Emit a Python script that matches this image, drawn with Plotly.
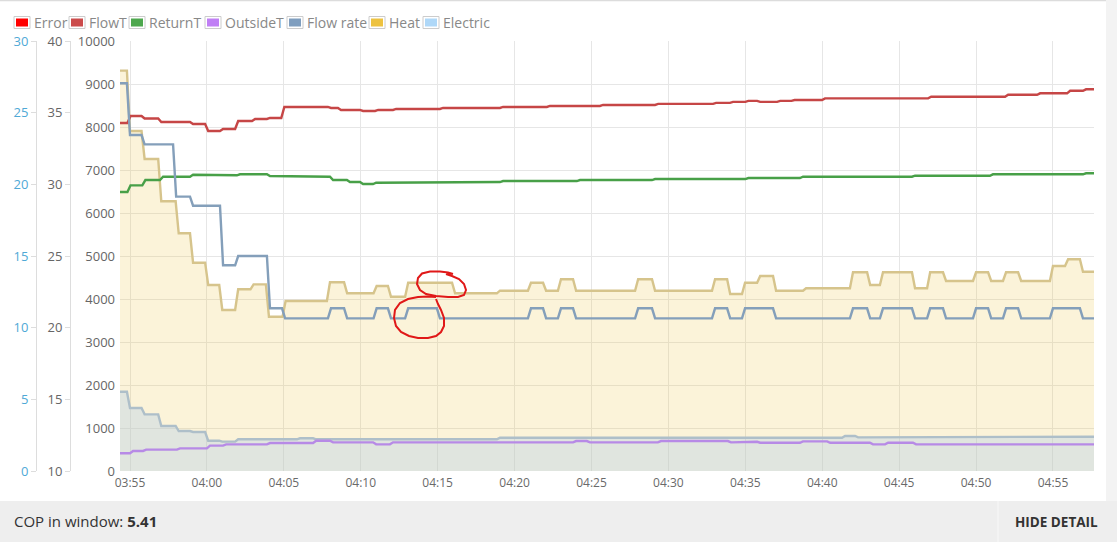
import pandas as pd
import plotly.graph_objects as go

DAY = "2024-01-01 "
START = "03:54:21"
END = "04:57:40"

# ---------------- data (level changes: time the step begins, value) -------------
heat_t = ["03:54:21", "03:54:48", "03:55:45", "03:56:50", "03:57:58", "03:58:54", "03:59:53",
          "04:00:48", "04:01:50", "04:02:50", "04:03:50", "04:04:55", "04:07:48", "04:08:55",
          "04:10:50", "04:11:46", "04:12:53", "04:15:56", "04:18:51", "04:20:52", "04:21:51",
          "04:22:49", "04:23:48", "04:27:50", "04:28:56", "04:32:50", "04:33:49", "04:34:47",
          "04:35:46", "04:36:48", "04:38:45", "04:41:48", "04:42:55", "04:43:45", "04:45:50",
          "04:46:49", "04:47:51", "04:49:48", "04:50:47", "04:51:45", "04:52:44", "04:54:48",
          "04:55:47", "04:56:45"]
heat_w = [9310, 7907, 7256, 6272, 5528, 4844, 4326,
          3744, 4225, 4341, 3588, 3953, 4388, 4132,
          4302, 4053, 4379, 4132, 4193, 4379, 4193,
          4458, 4193, 4458, 4193, 4458, 4116, 4379,
          4535, 4193, 4250, 4621, 4326, 4621, 4250,
          4621, 4419, 4621, 4419, 4621, 4419, 4767,
          4923, 4635]

elec_t = ["03:54:21", "03:54:48", "03:55:45", "03:56:50", "03:57:58", "03:58:54", "03:59:53",
          "04:00:48", "04:01:50", "04:05:51", "04:06:54", "04:18:51", "04:41:17", "04:42:08",
          "04:45:50"]
elec_w = [1844, 1465, 1318, 1047, 930, 907, 705,
          682, 737, 760, 737, 774, 814, 783,
          798]

flow_t = ["03:54:21", "03:54:48", "03:55:45", "03:57:48", "03:58:54", "04:00:51", "04:01:50",
          "04:03:54", "04:04:53", "04:07:52", "04:08:55", "04:10:50", "04:11:46", "04:12:53",
          "04:14:57", "04:20:52", "04:21:51", "04:22:49", "04:23:48", "04:27:50", "04:28:56",
          "04:32:50", "04:33:49", "04:34:47", "04:36:48", "04:41:48", "04:42:55", "04:43:45",
          "04:45:50", "04:46:49", "04:47:51", "04:49:48", "04:50:47", "04:51:45", "04:52:44",
          "04:54:48", "04:56:45"]
flow_lpm = [27.05, 23.44, 22.79, 19.14, 18.51, 14.35, 15.0,
            11.35, 10.65, 11.35, 10.65, 11.35, 10.65, 11.35,
            10.65, 11.35, 10.65, 11.35, 10.65, 11.35, 10.65,
            11.35, 10.65, 11.35, 10.65, 11.35, 10.65, 11.35,
            10.65, 11.35, 10.65, 11.35, 10.65, 11.35, 10.65,
            11.35, 10.65]

flowT_t = ["03:54:21", "03:54:50", "03:55:45", "03:56:50", "03:58:54", "03:59:53", "04:00:51",
           "04:01:50", "04:02:56", "04:03:54", "04:04:50", "04:07:52", "04:08:31", "04:09:57",
           "04:10:56", "04:12:06", "04:15:09", "04:19:03", "04:22:06", "04:25:33", "04:29:08",
           "04:32:54", "04:34:00", "04:35:00", "04:35:46", "04:37:04", "04:38:00", "04:39:59",
           "04:46:53", "04:51:53", "04:53:58", "04:55:55", "04:56:57"]
flowT_c = [34.28, 34.77, 34.59, 34.35, 34.21, 33.72, 33.86,
           34.42, 34.56, 34.63, 35.40, 35.33, 35.19, 35.12,
           35.19, 35.26, 35.33, 35.40, 35.47, 35.54, 35.61,
           35.68, 35.75, 35.82, 35.75, 35.82, 35.88, 36.00,
           36.11, 36.25, 36.35, 36.53, 36.63]

retT_t = ["03:54:21", "03:54:50", "03:55:48", "03:56:57", "03:58:54", "03:59:53", "04:01:57",
          "04:03:54", "04:04:53", "04:08:00", "04:09:06", "04:09:57", "04:10:48", "04:13:04",
          "04:19:03", "04:24:03", "04:28:56", "04:35:00", "04:38:33", "04:45:50", "04:50:54",
          "04:56:57"]
retT_c = [29.47, 29.93, 30.30, 30.53, 30.67, 30.63, 30.70,
          30.58, 30.53, 30.30, 30.16, 30.02, 30.11, 30.16,
          30.23, 30.30, 30.37, 30.44, 30.53, 30.60, 30.70,
          30.77]

outT_t = ["03:54:21", "03:55:00", "03:55:51", "03:58:03", "04:00:00", "04:01:03", "04:03:54",
          "04:06:54", "04:08:00", "04:10:48", "04:11:54", "04:23:48", "04:24:42", "04:29:19",
          "04:33:52", "04:34:51", "04:35:46", "04:38:33", "04:40:19", "04:43:06", "04:44:05",
          "04:45:54"]
outT_c = [11.24, 11.40, 11.49, 11.58, 11.77, 11.86, 11.95,
          12.11, 12.00, 11.86, 12.00, 12.09, 12.00, 12.09,
          12.00, 12.04, 11.97, 12.07, 11.97, 11.86, 11.97,
          11.86]

x_ticks = ["03:55", "04:00", "04:05", "04:10", "04:15", "04:20", "04:25", "04:30",
           "04:35", "04:40", "04:45", "04:50", "04:55"]
legend_names = ["Error", "FlowT", "ReturnT", "OutsideT", "Flow rate", "Heat", "Electric"]
legend_cols = ["#ff0000", "#cb4b4b", "#4da74d", "#c07ff5", "#7f9ebf", "#edc240", "#afd8f8"]
cop_value = "5.41"

FONT = "Open Sans"
W, H = 1117, 542
ML, MR, MT, MB = 0, 23, 41, 71
PW, PH = W - ML - MR, H - MT - MB


def steps(times, vals, ramp=12):
    ts = [pd.Timestamp(DAY + t) for t in times] + [pd.Timestamp(DAY + END)]
    xs, ys = [], []
    for i, v in enumerate(vals):
        s = ts[i] + pd.Timedelta(seconds=ramp if i > 0 else 0)
        xs += [s, ts[i + 1]]
        ys += [v, v]
    return xs, ys


def px(xp):
    return (xp - ML) / PW


def py(yp):
    return (H - MB - yp) / PH


fig = go.Figure()

hx, hy = steps(heat_t, heat_w)
ex, ey = steps(elec_t, elec_w)
fx, fy = steps(flow_t, flow_lpm)
ftx, fty = steps(flowT_t, flowT_c)
rtx, rty = steps(retT_t, retT_c)
otx, oty = steps(outT_t, outT_c)

LW = 2.4
fig.add_trace(go.Scatter(x=hx, y=hy, mode="lines", name="Heat", fill="tozeroy",
                         fillcolor="rgba(237,194,64,0.2)",
                         line=dict(color="#d6c48c", width=LW), yaxis="y"))
fig.add_trace(go.Scatter(x=ex, y=ey, mode="lines", name="Electric", fill="tozeroy",
                         fillcolor="rgba(178,206,232,0.36)",
                         line=dict(color="#aebfc9", width=LW), yaxis="y"))
fig.add_trace(go.Scatter(x=otx, y=oty, mode="lines", name="OutsideT",
                         line=dict(color="#b78ae6", width=LW), yaxis="y2"))
fig.add_trace(go.Scatter(x=rtx, y=rty, mode="lines", name="ReturnT",
                         line=dict(color="#48a048", width=LW), yaxis="y2"))
fig.add_trace(go.Scatter(x=ftx, y=fty, mode="lines", name="FlowT",
                         line=dict(color="#c64646", width=LW), yaxis="y2"))
fig.add_trace(go.Scatter(x=fx, y=fy, mode="lines", name="Flow rate",
                         line=dict(color="#849fba", width=LW), yaxis="y3"))

shapes = []
annotations = []

# page chrome: top rule, right strip, bottom bar
shapes.append(dict(type="rect", xref="paper", yref="paper", x0=px(0), x1=px(1106),
                   y0=py(1.2), y1=py(0), fillcolor="#dcdcdc", line_width=0, layer="below"))
shapes.append(dict(type="rect", xref="paper", yref="paper", x0=px(1106), x1=px(W),
                   y0=py(501), y1=py(0), fillcolor="#f3f3f3", line_width=0, layer="below"))
shapes.append(dict(type="rect", xref="paper", yref="paper", x0=px(0), x1=px(W),
                   y0=py(H), y1=py(501), fillcolor="#eeeeee", line_width=0, layer="below"))
shapes.append(dict(type="line", xref="paper", yref="paper", x0=px(998), x1=px(998),
                   y0=py(H), y1=py(501), line=dict(color="#f8f8f8", width=1)))

annotations.append(dict(xref="paper", yref="paper", x=px(12), y=py(521), xanchor="left",
                        yanchor="middle", showarrow=False,
                        text="COP in window: <b>" + cop_value + "</b>",
                        font=dict(family=FONT, size=15, color="#333333")))
annotations.append(dict(xref="paper", yref="paper", x=px(1056), y=py(522), xanchor="center",
                        yanchor="middle", showarrow=False, text="<b>HIDE DETAIL</b>",
                        font=dict(family=FONT, size=13.5, color="#333333")))

# legend (boxes + labels)
box_x = [14, 69, 129, 205, 287, 369, 423]
for name, col, bx in zip(legend_names, legend_cols, box_x):
    shapes.append(dict(type="rect", xref="paper", yref="paper", x0=px(bx), x1=px(bx + 16),
                       y0=py(28.5), y1=py(16.5), fillcolor="white",
                       line=dict(color="#cccccc", width=1)))
    shapes.append(dict(type="rect", xref="paper", yref="paper", x0=px(bx + 2), x1=px(bx + 14),
                       y0=py(26.5), y1=py(18.5), fillcolor=col, line_width=0))
    annotations.append(dict(xref="paper", yref="paper", x=px(bx + 18), y=py(22.5),
                            xanchor="left", yanchor="middle", showarrow=False, text=name,
                            font=dict(family=FONT, size=14, color="#888888")))

# red hand-drawn marks
upper = [(453, 274), (448, 272.5), (440, 271.5), (430, 271.5), (422, 273.5), (418, 278),
         (417, 284), (420, 290), (426, 294), (436, 296), (448, 297), (458, 297), (464, 295),
         (466, 290), (464, 284), (459, 279), (452, 276), (446, 274)]
lower = [(436, 297), (428, 296.5), (418, 297), (408, 299), (400, 303), (395, 310), (394, 318),
         (396, 326), (401, 332), (409, 336), (418, 338), (428, 338), (436, 336), (441, 332),
         (444, 326), (444, 318), (441, 310), (438, 304), (436, 299)]
for pts in (upper, lower):
    path = "M " + " L ".join(f"{px(a):.5f},{py(b):.5f}" for a, b in pts)
    shapes.append(dict(type="path", xref="paper", yref="paper", path=path,
                       line=dict(color="#e01818", width=2)))

fig.update_layout(
    width=W, height=H,
    margin=dict(l=ML, r=MR, t=MT, b=MB, pad=0, autoexpand=False),
    paper_bgcolor="white", plot_bgcolor="white",
    showlegend=False,
    font=dict(family=FONT, size=13, color="#555555"),
    shapes=shapes, annotations=annotations,
    xaxis=dict(domain=[px(120), 1], range=[DAY + START, DAY + END], type="date",
               tickmode="array", tickvals=[DAY + t for t in x_ticks], ticktext=x_ticks,
               showgrid=True, gridcolor="#e6e6e6", gridwidth=1, zeroline=False,
               showline=False, ticks="", ticklabelstandoff=3,
               tickfont=dict(size=12, color="#6a6a6a")),
    yaxis=dict(range=[0, 10000], dtick=1000, tickformat="d", showgrid=True,
               gridcolor="#e6e6e6", zeroline=False, showline=False, ticks="",
               ticklabelstandoff=4, tickfont=dict(size=13, color="#666666")),
    yaxis2=dict(range=[10, 40], dtick=5, overlaying="y", anchor="free", side="left",
                position=px(70), showgrid=False, zeroline=False, showline=True,
                linecolor="#dddddd", ticks="outside", ticklen=5, tickcolor="#dddddd",
                tickfont=dict(size=13, color="#666666")),
    yaxis3=dict(range=[0, 30], dtick=5, overlaying="y", anchor="free", side="left",
                position=px(36), showgrid=False, zeroline=False, showline=True,
                linecolor="#dddddd", ticks="outside", ticklen=5, tickcolor="#dddddd",
                tickfont=dict(size=13, color="#4fa9d6")),
)

fig.write_html("out.html", config={"displayModeBar": False},
               post_script="document.body.style.margin='0';")
